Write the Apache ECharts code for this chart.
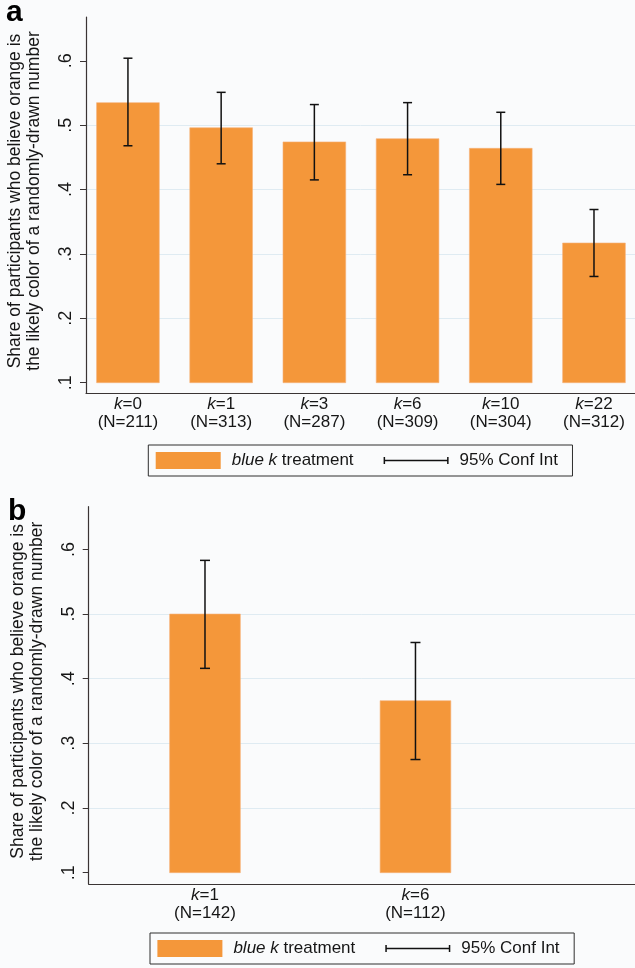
<!DOCTYPE html>
<html>
<head>
<meta charset="utf-8">
<script src="https://cdn.jsdelivr.net/npm/echarts@6/dist/echarts.min.js"></script>
<style>
  html, body { margin: 0; padding: 0; background: #fafbfc; }
  #chart { width: 635px; height: 968px; }
</style>
</head>
<body>
<div id="chart"></div>
<script>
// Panel a: blue k treatment, k = number of blue draws shown
const kA = ['0', '1', '3', '6', '10', '22'];
const nA = [211, 313, 287, 309, 304, 312];
const shareA = [0.535, 0.496, 0.474, 0.479, 0.464, 0.317];
const ciLowA = [0.468, 0.440, 0.415, 0.423, 0.408, 0.265];
const ciHighA = [0.604, 0.551, 0.532, 0.535, 0.520, 0.369];

// Panel b
const kB = ['1', '6'];
const nB = [142, 112];
const shareB = [0.500, 0.366];
const ciLowB = [0.416, 0.275];
const ciHighB = [0.583, 0.456];

// Shared y axis ticks; bars rise from the lowest tick
const yTicks = [0.1, 0.2, 0.3, 0.4, 0.5, 0.6];
const barBase = 0.1;

const yTitle = 'Share of participants who believe orange is\nthe likely color of a randomly-drawn number';
const barName = 'blue k treatment';
const ciName = '95% Conf Int';

const FONT = '"Liberation Sans", Arial, Helvetica, sans-serif';
const ORANGE = '#f4973a';
const AXIS = '#3a3434';
const TEXT = '#161616';
const GRIDLINE = '#dfebf2';

function barRenderer(widthFrac) {
  return function (params, api) {
    const i = api.value(0);
    const v = api.value(1);
    const top = api.coord([i, v]);
    const base = api.coord([i, barBase]);
    const w = api.size([1, 0])[0] * widthFrac;
    return {
      type: 'rect',
      shape: { x: top[0] - w / 2, y: top[1], width: w, height: base[1] - top[1] },
      style: { fill: ORANGE, stroke: '#f7b27a', lineWidth: 0.6 }
    };
  };
}

function ciRenderer(capWidth) {
  return function (params, api) {
    const i = api.value(0);
    const lo = api.coord([i, api.value(1)]);
    const hi = api.coord([i, api.value(2)]);
    const x = lo[0];
    const st = { stroke: '#111', lineWidth: 1.5 };
    return {
      type: 'group',
      children: [
        { type: 'line', shape: { x1: x, y1: hi[1], x2: x, y2: lo[1] }, style: st },
        { type: 'line', shape: { x1: x - capWidth / 2, y1: hi[1], x2: x + capWidth / 2, y2: hi[1] }, style: st },
        { type: 'line', shape: { x1: x - capWidth / 2, y1: lo[1], x2: x + capWidth / 2, y2: lo[1] }, style: st }
      ]
    };
  };
}

function xAxisFor(gridIndex, ks, ns, min, max) {
  return {
    gridIndex: gridIndex,
    type: 'value',
    min: min,
    max: max,
    axisLine: { show: true, onZero: false, lineStyle: { color: AXIS, width: 1.2 } },
    axisTick: { show: false },
    splitLine: { show: false },
    axisLabel: {
      customValues: ks.map((_, i) => i),
      margin: 3,
      fontFamily: FONT,
      fontSize: 17,
      lineHeight: 17.5,
      color: TEXT,
      formatter: v => '{k|k}=' + ks[v] + '\n(N=' + ns[v] + ')',
      rich: { k: { fontStyle: 'italic', fontFamily: FONT, fontSize: 17, lineHeight: 17.5, color: TEXT } }
    }
  };
}

function yAxisFor(gridIndex, min, max) {
  return {
    gridIndex: gridIndex,
    type: 'value',
    min: min,
    max: max,
    axisLine: { show: true, onZero: false, lineStyle: { color: AXIS, width: 1.2 } },
    axisTick: { show: true, inside: false, length: 6, customValues: yTicks, lineStyle: { color: AXIS } },
    axisLabel: {
      customValues: yTicks,
      rotate: 90,
      margin: 11,
      fontFamily: FONT,
      fontSize: 18,
      color: TEXT,
      formatter: v => '.' + Math.round(v * 10)
    },
    splitLine: { show: true, showMinLine: false, showMaxLine: false, lineStyle: { color: GRIDLINE, width: 1 } },
    name: yTitle,
    nameLocation: 'middle',
    nameRotate: 90,
    nameGap: 42,
    nameTextStyle: { fontFamily: FONT, fontSize: 17.5, lineHeight: 19, color: TEXT, padding: [0, 0, 0, 8] }
  };
}

function legendFor(left, top) {
  return {
    left: left,
    top: top,
    orient: 'horizontal',
    selectedMode: false,
    padding: [7, 14.6, 7, 7.4],
    itemWidth: 65,
    itemHeight: 17,
    itemGap: 30,
    borderColor: '#2e2e2e',
    borderWidth: 1,
    itemStyle: { borderWidth: 0 },
    data: [
      { name: barName, icon: 'path://M0,0H65V17H0Z', itemStyle: { color: ORANGE } },
      { name: ciName, icon: 'path://M0,0H1.5V7H0Z M0,2.75H65V4.25H0Z M63.5,0H65V7H63.5Z', itemStyle: { color: '#111' } }
    ],
    formatter: name => name === barName ? '{i|blue k} treatment' : name,
    textStyle: {
      fontFamily: FONT, fontSize: 17, lineHeight: 17, color: TEXT, padding: [0, 0, 0, 6],
      rich: { i: { fontStyle: 'italic', fontFamily: FONT, fontSize: 17, lineHeight: 17, color: TEXT } }
    }
  };
}

const chart = echarts.init(document.getElementById('chart'), null, { renderer: 'canvas' });

chart.setOption({
  backgroundColor: '#fafbfc',
  animation: false,
  textStyle: { fontFamily: FONT },
  title: [
    { text: 'a', left: 6, top: -2, padding: 0, textStyle: { fontFamily: FONT, fontSize: 30, fontWeight: 'bold', color: '#000' } },
    { text: 'b', left: 8, top: 497, padding: 0, textStyle: { fontFamily: FONT, fontSize: 30, fontWeight: 'bold', color: '#000' } }
  ],
  grid: [
    { left: 86, top: 17, right: 0, height: 376, outerBoundsMode: 'none' },
    { left: 88.7, top: 506.7, right: 0, height: 377.3, outerBoundsMode: 'none' }
  ],
  xAxis: [
    xAxisFor(0, kA, nA, -0.45, 5.44),
    xAxisFor(1, kB, nB, -0.5525, 2.043)
  ],
  yAxis: [
    yAxisFor(0, 0.084, 0.668),
    yAxisFor(1, 0.0825, 0.666)
  ],
  legend: [legendFor(148.3, 445), legendFor(150, 933)],
  series: [
    {
      name: barName, type: 'custom', xAxisIndex: 0, yAxisIndex: 0,
      renderItem: barRenderer(0.673),
      encode: { x: 0, y: 1 },
      data: shareA.map((v, i) => [i, v]),
      z: 2
    },
    {
      name: ciName, type: 'custom', xAxisIndex: 0, yAxisIndex: 0,
      renderItem: ciRenderer(9),
      encode: { x: 0, y: [1, 2] },
      data: ciLowA.map((lo, i) => [i, lo, ciHighA[i]]),
      z: 3
    },
    {
      name: barName, type: 'custom', xAxisIndex: 1, yAxisIndex: 1,
      renderItem: barRenderer(0.336),
      encode: { x: 0, y: 1 },
      data: shareB.map((v, i) => [i, v]),
      z: 2
    },
    {
      name: ciName, type: 'custom', xAxisIndex: 1, yAxisIndex: 1,
      renderItem: ciRenderer(10),
      encode: { x: 0, y: [1, 2] },
      data: ciLowB.map((lo, i) => [i, lo, ciHighB[i]]),
      z: 3
    }
  ]
});
</script>
</body>
</html>
